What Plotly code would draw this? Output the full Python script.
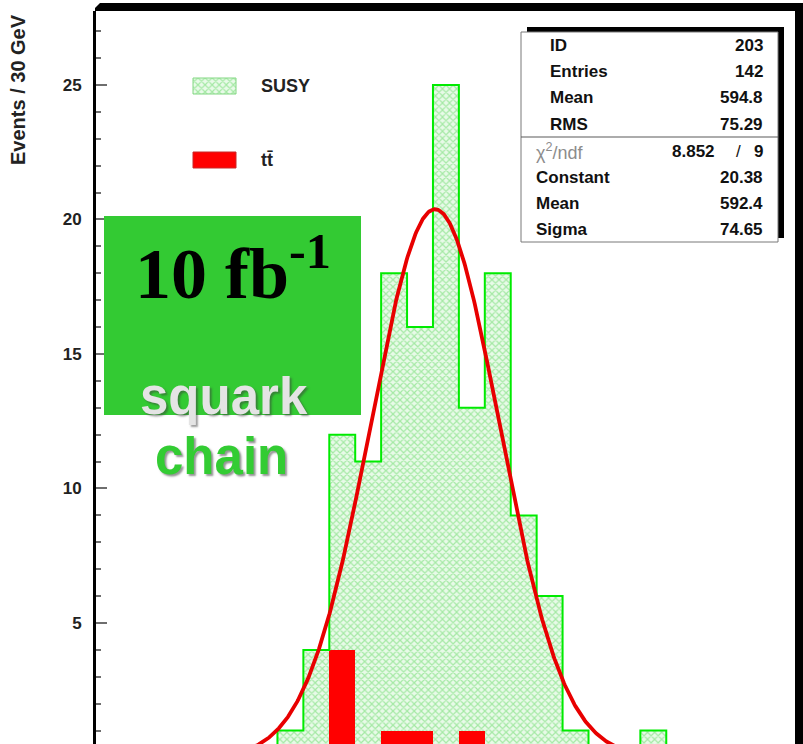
import numpy as np
import plotly.graph_objects as go

# ---- histogram content (30 GeV bins) ----
bin_width = 30
first_edge = 410
susy_counts = [1, 4, 12, 11, 18, 16, 25, 13, 18, 9, 6, 1, 0, 0, 1]
ttbar_counts = [0, 0, 4, 0, 1, 1, 0, 1, 0, 0, 0, 0, 0, 0, 0]

# ---- gaussian fit parameters ----
fit_constant = 20.38
fit_mean = 592.4
fit_sigma = 74.65

# ---- statistics panel ----
stats_labels = ["ID", "Entries", "Mean", "RMS"]
stats_values = ["203", "142", "594.8", "75.29"]
chi2_value = "8.852"
ndf_value = "9"
fit_labels = ["Constant", "Mean", "Sigma"]
fit_values = ["20.38", "592.4", "74.65"]

y_major_ticks = [5, 10, 15, 20, 25]
x_range = [200, 1009]
y_range = [0.502, 27.75]

W, H = 803, 744
FONT = "Liberation Sans, Arial, Helvetica, sans-serif"
SERIF = "Liberation Serif, Times New Roman, serif"

edges = first_edge + bin_width * np.arange(len(susy_counts) + 1)
centers = edges[:-1] + bin_width / 2

# step outline of the SUSY histogram
step_x, step_y = [edges[0]], [0]
for i, v in enumerate(susy_counts):
    step_x += [edges[i], edges[i + 1]]
    step_y += [v, v]
step_x.append(edges[-1])
step_y.append(0)

curve_x = np.linspace(x_range[0], x_range[1], 800)
curve_y = fit_constant * np.exp(-0.5 * ((curve_x - fit_mean) / fit_sigma) ** 2)

hatch = dict(shape="x", fgcolor="rgb(95,215,95)", bgcolor="rgb(232,250,232)",
             size=5, solidity=0.42)

fig = go.Figure()
fig.add_trace(go.Bar(x=centers, y=susy_counts, width=bin_width,
                     marker=dict(color="rgb(232,250,232)", line_width=0, pattern=hatch),
                     hoverinfo="skip"))
fig.add_trace(go.Scatter(x=step_x, y=step_y, mode="lines",
                         line=dict(color="rgb(0,235,0)", width=2), hoverinfo="skip"))
fig.add_trace(go.Bar(x=centers, y=ttbar_counts, width=bin_width,
                     marker=dict(color="rgb(255,0,0)", line_width=0), hoverinfo="skip"))
fig.add_trace(go.Scatter(x=curve_x, y=curve_y, mode="lines",
                         line=dict(color="rgb(232,0,0)", width=3.8), hoverinfo="skip"))

# legend swatch for SUSY (pixel-space overlay axes)
fig.add_trace(go.Scatter(x=[193, 236, 236, 193, 193], y=[78, 78, 94, 94, 78],
                         mode="lines", fill="toself", fillcolor="rgb(232,250,232)",
                         fillpattern=hatch, line=dict(color="rgb(130,215,130)", width=1),
                         xaxis="x2", yaxis="y2", hoverinfo="skip"))

shapes = [
    # frame shadow bands
    dict(type="path", path="M 95,11 L 95,8 L 100,3 L 801,3 L 801,11 Z",
         fillcolor="black", line_width=0),
    dict(type="rect", x0=795, x1=803, y0=3, y1=H, fillcolor="black", line_width=0),
    # stats panel
    dict(type="rect", x0=527, x1=784, y0=27, y1=238, fillcolor="black", line_width=0),
    dict(type="rect", x0=521, x1=778, y0=32, y1=242, fillcolor="white",
         line=dict(color="rgb(120,120,120)", width=1)),
    dict(type="line", x0=521, x1=778, y0=137, y1=137,
         line=dict(color="rgb(90,90,90)", width=1.2)),
    # luminosity box
    dict(type="rect", x0=104, x1=361, y0=216, y1=415,
         fillcolor="rgb(51,202,51)", line_width=0),
    # ttbar legend swatch
    dict(type="rect", x0=193, x1=236, y0=152, y1=168, fillcolor="rgb(255,0,0)",
         line=dict(color="rgb(200,40,40)", width=1)),
]
for s in shapes:
    s.update(xref="x2", yref="y2", layer="above")

ann = []


def text(x, y, s, size=17, anchor="left", color="#111", family=FONT, angle=0, **kw):
    ann.append(dict(x=x, y=y, xref="x2", yref="y2", text=s, showarrow=False,
                    xanchor=anchor, yanchor="middle", textangle=angle,
                    font=dict(family=family, size=size, color=color, **kw)))


# statistics entries
rows_top = [45, 71, 97, 124]
for yy, lab, val in zip(rows_top, stats_labels, stats_values):
    text(548, yy, f"<b>{lab}</b>", anchor="left")
    text(765, yy, f"<b>{val}</b>", anchor="right")
text(534, 151, "χ<sup>2</sup>/ndf", size=18, color="rgb(140,140,140)")
text(717, 151, f"<b>{chi2_value}</b>", anchor="right")
text(738, 151, "/", anchor="center")
text(765, 151, f"<b>{ndf_value}</b>", anchor="right")
for yy, lab, val in zip([177, 203, 229], fit_labels, fit_values):
    text(534, yy, f"<b>{lab}</b>", anchor="left")
    text(765, yy, f"<b>{val}</b>", anchor="right")

# legend labels
text(259, 86, "<b>SUSY</b>", size=18, color="#222")
text(259, 160, "<b>tt̄</b>", size=18, color="#222")

# axis title
text(18, 90, "<b>Events / 30 GeV</b>", size=20, anchor="center", color="#222", angle=-90)

# luminosity / decay-chain labels
text(233, 268, "<b>10 fb<sup>-1</sup></b>", size=72, anchor="center", color="black",
     family=SERIF)
text(224, 396, "<b>squark</b>", size=51, anchor="center", color="rgb(228,228,228)",
     shadow="2px 2px 2px rgba(60,60,60,0.5)")
text(221, 456, "<b>chain</b>", size=51, anchor="center", color="rgb(51,204,51)",
     shadow="2px 2px 2px rgba(60,60,60,0.55)")

fig.update_layout(
    width=W, height=H,
    margin=dict(l=0, r=0, t=0, b=0),
    paper_bgcolor="white", plot_bgcolor="rgba(0,0,0,0)",
    showlegend=False, barmode="overlay", bargap=0,
    xaxis=dict(domain=[96 / W, 795 / W], range=x_range, visible=False, fixedrange=True),
    yaxis=dict(domain=[0, 733 / H], range=y_range, fixedrange=True,
               showline=True, linecolor="black", linewidth=3,
               tickvals=y_major_ticks, ticks="inside", ticklen=11, tickwidth=1.5,
               tickcolor="rgb(110,110,110)", showgrid=False, zeroline=False,
               ticklabelstandoff=8,
               tickfont=dict(family=FONT, size=17, color="#222", weight="bold"),
               minor=dict(dtick=1, tick0=0, ticks="inside", ticklen=5, tickwidth=1.5,
                          tickcolor="rgb(110,110,110)", showgrid=False)),
    xaxis2=dict(domain=[0, 1], range=[0, W], visible=False, anchor="y2", fixedrange=True),
    yaxis2=dict(domain=[0, 1], range=[H, 0], visible=False, anchor="x2", fixedrange=True),
    shapes=shapes, annotations=ann,
)

fig.write_html("out.html")
